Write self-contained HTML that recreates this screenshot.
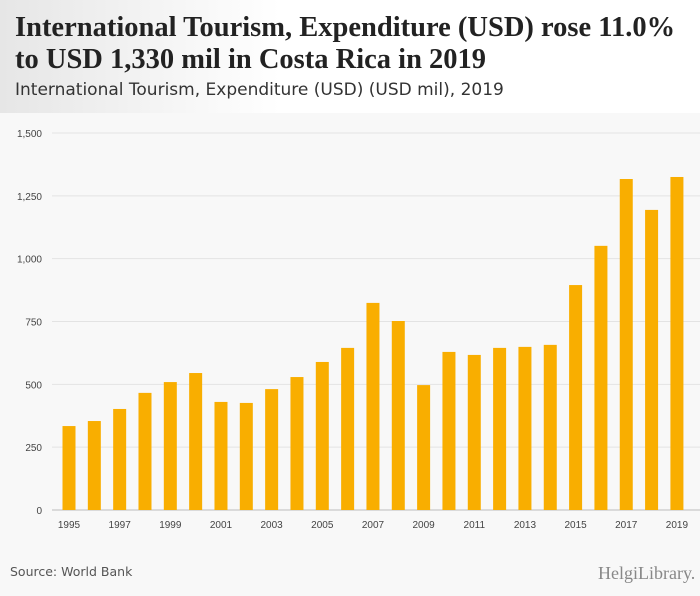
<!DOCTYPE html>
<html><head><meta charset="utf-8"><style>
body{margin:0;width:700px;height:596px;background:#f8f8f8;font-family:"Liberation Sans",sans-serif;overflow:hidden;position:relative}
#hdr{position:absolute;left:0;top:0;width:700px;height:113px;background:linear-gradient(90deg,#e6e6e6,#fff 40%)}
#t1{position:absolute;left:15px;top:12px;font-family:"Liberation Serif",serif;font-weight:bold;font-size:28.5px;line-height:32px;color:#222;white-space:nowrap}
#t2{position:absolute;left:15px;top:80px;font-family:"DejaVu Sans",sans-serif;font-size:17px;color:#333;white-space:nowrap}
#src{position:absolute;left:10px;top:564px;font-family:"DejaVu Sans",sans-serif;font-size:12.5px;color:#555}
#logo{position:absolute;left:598px;top:563px;font-family:"Liberation Serif",serif;font-size:18px;color:#888}
svg{position:absolute;left:0;top:0}
</style></head><body>
<div id="hdr"></div>
<div id="t1">International Tourism, Expenditure (USD) rose 11.0%<br>to USD 1,330 mil in Costa Rica in 2019</div>
<div id="t2">International Tourism, Expenditure (USD) (USD mil), 2019</div>
<svg id="c" width="700" height="596"></svg>
<div id="src">Source: World Bank</div>
<div id="logo">HelgiLibrary.</div>
<script>
const years=[1995,1996,1997,1998,1999,2000,2001,2002,2003,2004,2005,2006,2007,2008,2009,2010,2011,2012,2013,2014,2015,2016,2017,2018,2019];
const values=[334,354,402,466,509,545,430,426,481,529,589,645,824,752,497,629,617,645,649,657,895,1051,1317,1194,1325];
const ticks=[0,250,500,750,1000,1250,1500];
const tickLabels=["0","250","500","750","1,000","1,250","1,500"];
const svg=document.getElementById('c');const NS='http://www.w3.org/2000/svg';
const y=v=>510-v*377/1500;const x=i=>69+i*25.33;
function mk(t,a){const e=document.createElementNS(NS,t);for(const k in a)e.setAttribute(k,a[k]);svg.appendChild(e);return e;}
ticks.forEach((t,i)=>{
const l=mk('line',{x1:52,x2:700,y1:y(t),y2:y(t),stroke:t==0?'#bbb':'#e3e3e3'});


const tx=mk('text',{x:42,y:y(t)+4,'text-anchor':'end','font-size':10,fill:'#444'});tx.textContent=tickLabels[i];


});
values.forEach((v,i)=>{
const r=mk('rect',{x:x(i)-6.5,y:y(v),width:13,height:510-y(v),fill:'#f9ae00'});


if(i%2==0){const t=mk('text',{x:x(i),y:528,'text-anchor':'middle','font-size':10,fill:'#444'});t.textContent=years[i];

}
});
</script>
</body></html>
